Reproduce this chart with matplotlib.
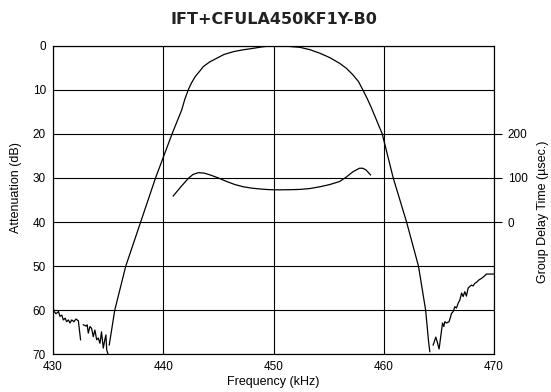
import matplotlib
matplotlib.use("Agg")
import matplotlib.pyplot as plt

# Attenuation: main passband curve (kHz, dB)
att_freq = [435.1, 435.6, 436.6, 437.95, 439.3, 440.8, 441.67, 441.95, 442.27, 442.55,
            442.9, 443.3, 443.63, 444.2, 444.84, 445.5, 446.35, 447.2, 448.16, 449.0,
            449.67, 450.0, 450.6, 451.5, 452.4, 453.3, 454.2, 455.1, 456.0, 456.6,
            457.2, 457.7, 458.1, 458.5, 458.9, 459.86, 460.86, 462.07, 463.15, 463.8,
            464.06, 464.18]
att_db = [67.9, 60.0, 50.0, 40.0, 30.0, 20.0, 14.6, 12.2, 10.0, 8.5,
          7.0, 5.8, 4.75, 3.7, 2.86, 2.0, 1.36, 0.95, 0.6, 0.25,
          0.07, 0.0, 0.07, 0.18, 0.37, 0.9, 1.7, 2.7, 4.0, 5.1,
          6.6, 8.1, 10.0, 12.0, 14.2, 20.0, 30.0, 40.0, 50.0, 60.0,
          67.0, 69.4]

# Stopband floor, low side (two segments)
low1_freq = [430.0, 430.1, 430.27, 430.5, 430.63, 430.8, 430.94, 431.1, 431.24, 431.4,
             431.54, 431.7, 431.9, 432.08, 432.3, 432.5]
low1_db = [59.2, 60.3, 60.8, 60.3, 61.4, 61.1, 62.2, 61.8, 62.6, 62.2,
           62.9, 62.2, 62.6, 62.0, 62.4, 66.7]
low2_freq = [432.75, 433.0, 433.1, 433.2, 433.35, 433.5, 433.65, 433.8, 433.96, 434.1,
             434.26, 434.4, 434.56, 434.7, 434.8, 434.87, 435.0]
low2_db = [63.3, 63.6, 63.3, 65.2, 63.7, 64.1, 66.0, 64.5, 66.7, 66.3,
           67.5, 64.9, 68.6, 66.7, 65.6, 69.0, 70.0]

# Stopband floor, high side
high_freq = [464.48, 464.72, 464.84, 465.02, 465.33, 465.45, 465.54, 465.7, 465.93, 466.15,
             466.3, 466.45, 466.6, 466.75, 466.9, 467.06, 467.2, 467.35, 467.5, 467.65,
             467.8, 467.96, 468.1, 468.26, 468.4, 468.65, 468.86, 469.16, 469.3, 469.77, 470.0]
high_db = [67.9, 66.1, 67.1, 68.8, 62.9, 63.7, 62.6, 62.9, 62.6, 60.7,
           60.3, 59.2, 59.5, 58.4, 57.7, 56.1, 56.9, 55.8, 56.8, 55.0,
           54.6, 54.3, 54.5, 53.9, 53.7, 53.1, 52.8, 52.2, 51.8, 51.8, 51.8]

# Group delay (kHz, usec)
gd_freq = [440.9, 441.6, 442.27, 442.7, 443.18, 443.7, 444.24, 445.0, 445.75, 446.5,
           447.26, 448.0, 448.77, 449.6, 450.4, 451.4, 452.4, 453.3, 454.2, 455.1,
           456.0, 456.6, 457.2, 457.8, 458.1, 458.4, 458.8]
gd_us = [59, 80, 99, 108, 112, 111, 107, 100, 92, 85,
         80, 77, 75, 73.5, 73, 73.3, 74, 76, 80, 85,
         92, 102, 114, 122, 122, 118, 107]

x_ticks = [430, 440, 450, 460, 470]
y_ticks = [0, 10, 20, 30, 40, 50, 60, 70]
gd_ticks = [0, 100, 200]

plt.rcParams["font.family"] = ["Liberation Sans", "DejaVu Sans"]

fig = plt.figure(figsize=(5.51, 3.92), dpi=100)
ax = fig.add_axes([53 / 551, 1 - 354.3 / 392, 441 / 551, 308.6 / 392])

ax.set_xlim(430, 470)
ax.set_ylim(70, 0)
ax.set_xticks(x_ticks)
ax.set_yticks(y_ticks)
ax.tick_params(length=0, labelsize=8.5, pad=5)
ax.grid(True, color="black", linewidth=0.8)
for s in ax.spines.values():
    s.set_linewidth(0.8)

line_kw = dict(color="black", linewidth=0.9)
ax.plot(att_freq, att_db, **line_kw)
ax.plot(low1_freq, low1_db, **line_kw)
ax.plot(low2_freq, low2_db, **line_kw)
ax.plot(high_freq, high_db, **line_kw)

ax.set_xlabel("Frequency (kHz)", fontsize=9)
ax.xaxis.set_label_coords(0.5, -0.071)
ax.set_ylabel("Attenuation (dB)", fontsize=9, va="center")
ax.yaxis.set_label_coords(-0.085, 0.539)

ax2 = ax.twinx()
ax2.set_ylim(-300, 400)
ax2.set_yticks(gd_ticks)
ax2.tick_params(direction="out", length=6, width=0.8, labelsize=8.5, pad=4)
ax2.plot(gd_freq, gd_us, **line_kw)
ax2.set_ylabel("Group Delay Time (\u00b5sec.)", fontsize=9, rotation=90, va="center")
ax2.yaxis.set_label_coords(1.11, 0.463)

fig.text(274 / 551, 1 - 19 / 392, "IFT+CFULA450KF1Y-B0", ha="center", va="center",
         fontsize=11.5, fontweight="bold", family="DejaVu Sans", color="#222222")

fig.savefig("out.png", dpi=100)
